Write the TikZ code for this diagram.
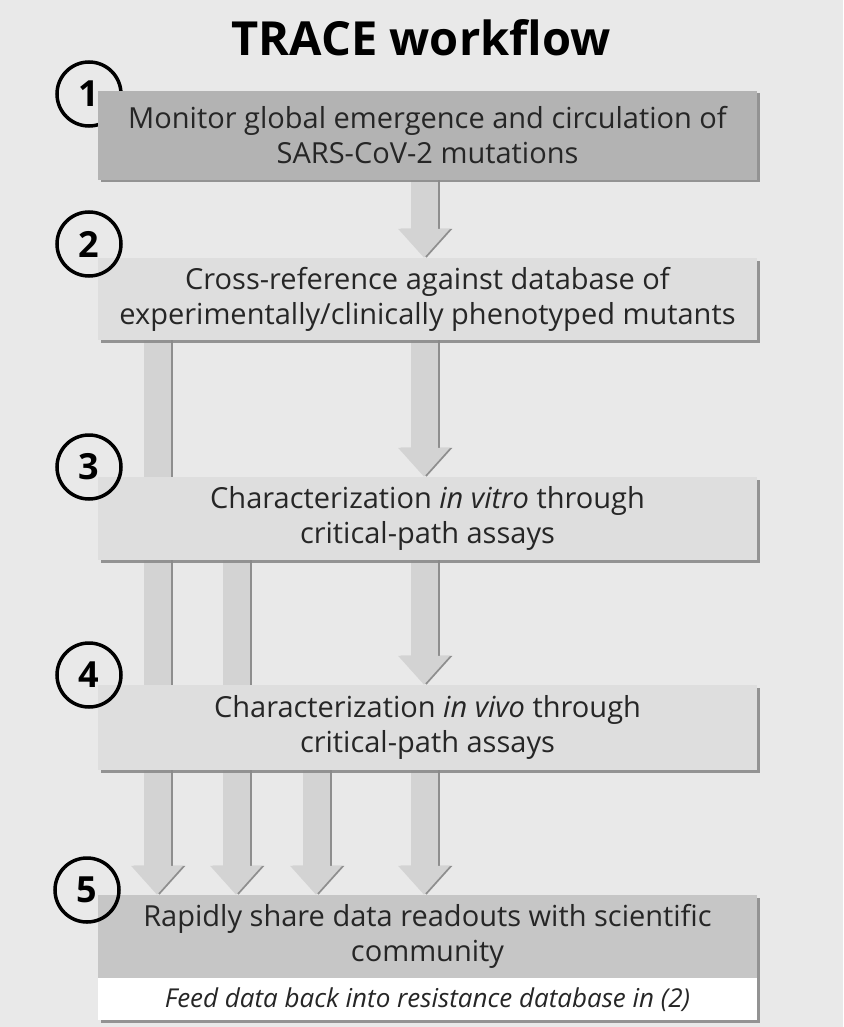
\documentclass[tikz,border=0pt]{standalone}
\usepackage{fontspec}
\setmainfont{Open Sans}
\usetikzlibrary{arrows.meta,shadows}
\definecolor{bgcol}{HTML}{E9E9E9}
\definecolor{boxdark}{HTML}{B3B3B3}
\definecolor{boxlight}{HTML}{DEDEDE}
\definecolor{boxmid}{HTML}{C6C6C6}
\definecolor{arrowfill}{HTML}{D3D3D3}
\definecolor{arrowedge}{HTML}{8E8E8E}
\definecolor{shadowcol}{HTML}{8A8A8A}
\pgfdeclarelayer{back}
\pgfdeclarelayer{arrowlayer}
\pgfsetlayers{back,arrowlayer,main}
\tikzset{
  stepbox/.style={rectangle, inner sep=0pt, minimum width=659pt, align=center,
    font=\fontsize{29}{35}\selectfont, text=black!85,
    drop shadow={shadow xshift=2.5pt, shadow yshift=-2.5pt, fill=shadowcol, opacity=0.9}},
  numcircle/.style={circle, draw=black, line width=3.5pt, minimum size=64pt, inner sep=0pt,
    font=\fontsize{36}{36}\selectfont\bfseries},
  fatarrow/.style={line width=27pt, draw=arrowfill, -{Triangle[width=50pt,length=29pt]}},
  fatedge/.style={line width=27pt, draw=arrowedge, -{Triangle[width=50pt,length=29pt]}},
}
\begin{document}
\begin{tikzpicture}[x=1pt,y=-1pt]
\useasboundingbox (0,0) rectangle (843,1027);
\begin{pgfonlayer}{back}
\fill[bgcol] (0,0) rectangle (843,1027);
\end{pgfonlayer}

\node (title) at (421,38) {\fontsize{47}{47}\selectfont\bfseries TRACE workflow};

\node[stepbox, fill=boxdark, minimum height=89pt] (b1) at (427.5,135.5)
  {Monitor global emergence and circulation of\\SARS-CoV-2 mutations};
\node[stepbox, fill=boxlight, minimum height=82pt] (b2) at (427.5,299)
  {Cross-reference against database of\\experimentally/clinically phenotyped mutants};
\node[stepbox, fill=boxlight, minimum height=83pt] (b3) at (427.5,518.5)
  {Characterization \textit{in vitro} through\\critical-path assays};
\node[stepbox, fill=boxlight, minimum height=85pt] (b4) at (427.5,727.5)
  {Characterization \textit{in vivo} through\\critical-path assays};
\node[stepbox, fill=boxmid, minimum height=83pt] (b5) at (427.5,936.5)
  {Rapidly share data readouts with scientific\\community};
\node[stepbox, fill=white, minimum height=42pt, font=\fontsize{26}{30}\selectfont\itshape,
  anchor=north] (b5strip) at (b5.south)
  {Feed data back into resistance database in (2)};

\node[numcircle] (n2) at (89,244) {2};
\node[numcircle] (n3) at (89,467) {3};
\node[numcircle] (n4) at (89,675) {4};
\node[numcircle] (n5) at (87,890) {5};

\coordinate (cmain) at (424,0);  \coordinate (cmainE) at (426.5,0);
\coordinate (cA) at (157,0);     \coordinate (cAE) at (159.5,0);
\coordinate (cB) at (236,0);     \coordinate (cBE) at (238.5,0);
\coordinate (cC) at (316,0);     \coordinate (cCE) at (318.5,0);

\begin{pgfonlayer}{arrowlayer}
\node[numcircle] (n1) at (89,94) {1};
\foreach \s/\t/\c in {b1/b2/cmain, b2/b3/cmain, b3/b4/cmain, b4/b5/cmain, b2/b5/cA, b3/b5/cB, b4/b5/cC}{
  \draw[fatedge] (\s.south -| \c E) -- (\t.north -| \c E);
  \draw[fatarrow] (\s.south -| \c) -- (\t.north -| \c);
}
\end{pgfonlayer}
\end{tikzpicture}
\end{document}
